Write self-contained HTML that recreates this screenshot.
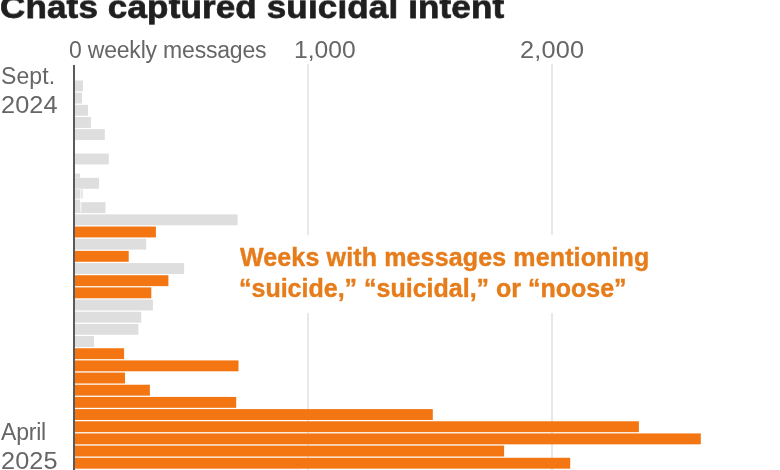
<!DOCTYPE html>
<html>
<head>
<meta charset="utf-8">
<style>
html,body{margin:0;padding:0;background:#fff;}
body{width:780px;height:470px;overflow:hidden;position:relative;font-family:"Liberation Sans",sans-serif;}
.t{position:absolute;white-space:nowrap;line-height:1;will-change:transform;}
.title{left:0px;top:-12px;font-size:35px;font-weight:bold;color:#1f1f1f;-webkit-text-stroke:0.8px #1f1f1f;word-spacing:0px;letter-spacing:0.15px;transform:scaleY(0.915);transform-origin:0 29.6px;}
.lab{font-size:23px;color:#666;}
.grid{position:absolute;width:2px;background:#e8e8e8;}
.axis{position:absolute;left:73px;top:64.5px;width:2px;height:420px;background:#5a5a5a;}
.b{position:absolute;left:75px;height:10.9px;}
.g{background:#dedede;}
.o{background:#f37612;}
.ann{font-size:25px;font-weight:bold;color:#e67c1a;-webkit-text-stroke:0.4px #e67c1a;}
.mask{position:absolute;background:#fff;}
</style>
</head>
<body>
<div class="t title">Chats captured suicidal intent</div>

<div class="t lab" style="left:69px;top:38.5px;letter-spacing:-0.2px;">0 weekly messages</div>
<div class="t lab" style="left:294px;top:38.5px;transform:scaleX(1.07);transform-origin:0 0;">1,000</div>
<div class="t lab" style="left:519.5px;top:38.5px;letter-spacing:0.15px;transform:scaleX(1.1);transform-origin:0 0;">2,000</div>

<div class="grid" style="left:307px;top:64px;height:406px;"></div>
<div class="grid" style="left:551px;top:64px;height:406px;"></div>

<div class="t lab" style="left:0.6px;top:64.7px;letter-spacing:0.1px;">Sept.</div>
<div class="t lab" style="left:0.6px;top:93.8px;letter-spacing:0.1px;transform:scaleX(1.1);transform-origin:0 0;">2024</div>
<div class="t lab" style="left:0.6px;top:421px;letter-spacing:-0.2px;">April</div>
<div class="t lab" style="left:0.6px;top:450px;letter-spacing:0.05px;transform:scaleX(1.1);transform-origin:0 0;">2025</div>

<svg style="position:absolute;left:0;top:0" width="780" height="470" viewBox="0 0 780 470">
<rect x="75" y="80.50" width="7.9" height="10.9" fill="#dedede"/>
<rect x="75" y="92.67" width="7.0" height="10.9" fill="#dedede"/>
<rect x="75" y="104.84" width="13.0" height="10.9" fill="#dedede"/>
<rect x="75" y="117.01" width="15.9" height="10.9" fill="#dedede"/>
<rect x="75" y="129.18" width="29.8" height="10.9" fill="#dedede"/>
<rect x="75" y="153.52" width="33.8" height="10.9" fill="#dedede"/>
<rect x="75" y="177.86" width="24.0" height="10.9" fill="#dedede"/>
<rect x="75" y="202.20" width="30.5" height="10.9" fill="#dedede"/>
<rect x="75" y="214.37" width="162.6" height="10.9" fill="#dedede"/>
<rect x="75" y="226.54" width="80.9" height="10.9" fill="#f37612"/>
<rect x="75" y="238.71" width="71.2" height="10.9" fill="#dedede"/>
<rect x="75" y="250.88" width="53.7" height="10.9" fill="#f37612"/>
<rect x="75" y="263.05" width="109.1" height="10.9" fill="#dedede"/>
<rect x="75" y="275.22" width="93.4" height="10.9" fill="#f37612"/>
<rect x="75" y="287.39" width="76.3" height="10.9" fill="#f37612"/>
<rect x="75" y="299.56" width="77.9" height="10.9" fill="#dedede"/>
<rect x="75" y="311.73" width="66.2" height="10.9" fill="#dedede"/>
<rect x="75" y="323.90" width="63.4" height="10.9" fill="#dedede"/>
<rect x="75" y="336.07" width="19.1" height="10.9" fill="#dedede"/>
<rect x="75" y="348.24" width="49.1" height="10.9" fill="#f37612"/>
<rect x="75" y="360.41" width="163.5" height="10.9" fill="#f37612"/>
<rect x="75" y="372.58" width="50.0" height="10.9" fill="#f37612"/>
<rect x="75" y="384.75" width="74.9" height="10.9" fill="#f37612"/>
<rect x="75" y="396.92" width="161.2" height="10.9" fill="#f37612"/>
<rect x="75" y="409.09" width="357.8" height="10.9" fill="#f37612"/>
<rect x="75" y="421.26" width="563.9" height="10.9" fill="#f37612"/>
<rect x="75" y="433.43" width="625.8" height="10.9" fill="#f37612"/>
<rect x="75" y="445.60" width="429.1" height="10.9" fill="#f37612"/>
<rect x="75" y="457.77" width="495.2" height="10.9" fill="#f37612"/>
<rect x="75" y="469.94" width="225.0" height="10.9" fill="#f37612"/>
<rect x="75" y="173.6" width="5" height="4.1" fill="#dedede"/>
<rect x="75" y="189.4" width="7.7" height="9.2" fill="#dedede"/>
<rect x="75" y="199.6" width="5" height="10.2" fill="#dedede"/>
<rect x="80.2" y="189.4" width="1.3" height="23" fill="#fff" fill-opacity="0.7"/>
</svg>

<div class="axis"></div>

<div class="mask" style="left:236px;top:235px;width:420px;height:78px;"></div>
<div class="t ann" style="left:240px;top:244.5px;letter-spacing:0.14px;">Weeks with messages mentioning</div>
<div class="t ann" style="left:239px;top:276px;">&ldquo;suicide,&rdquo; &ldquo;suicidal,&rdquo; or &ldquo;noose&rdquo;</div>
</body>
</html>
